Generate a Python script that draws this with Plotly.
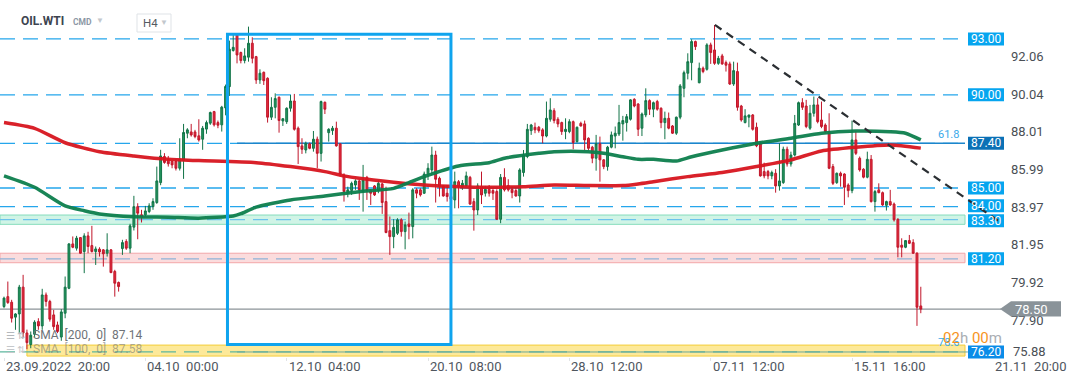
import plotly.graph_objects as go

# ---------------- DATA (H4 candles, OIL.WTI) ----------------
opens = [78.64, 79.17, 78.87, 78.07, 78.24, 79.68, 77.22, 76.60, 77.15, 77.83,
         77.60, 79.26, 78.91, 78.19, 77.65, 77.00, 78.28, 79.62, 82.00, 81.77,
         82.34, 81.59, 82.43, 81.91, 81.59, 81.72, 81.68, 81.50, 81.68, 80.52,
         79.93, 81.75, 82.13, 81.77, 82.90, 84.00, 83.56, 83.56, 83.74, 84.00,
         84.22, 85.29, 86.69, 86.55, 86.42, 86.42, 86.06, 86.47, 87.94, 88.01,
         88.01, 87.80, 87.62, 88.16, 88.48, 89.10, 88.51, 88.39, 89.30, 90.44,
         92.38, 93.21, 92.27, 91.84, 92.02, 92.77, 92.05, 90.80, 91.21, 90.89,
         88.80, 89.33, 89.87, 88.60, 88.56, 89.28, 89.67, 88.21, 87.26, 87.04,
         87.37, 87.13, 87.62, 86.86, 89.60, 87.97, 88.08, 88.21, 87.37, 85.70,
         84.72, 84.86, 85.16, 85.38, 84.81, 85.57, 84.86, 85.11, 84.86, 85.22,
         84.27, 82.71, 82.39, 82.57, 83.29, 82.66, 83.07, 82.93, 84.90, 84.90,
         84.72, 85.70, 85.97, 86.77, 85.52, 85.11, 84.72, 84.54, 84.36, 85.34,
         85.07, 85.11, 85.57, 84.27, 83.82, 85.07, 84.72, 84.93, 84.86, 84.81,
         83.32, 85.57, 85.13, 84.93, 84.86, 84.57, 85.83, 86.69, 88.08, 88.26,
         88.26, 88.12, 87.79, 88.69, 89.15, 88.69, 88.51, 88.03, 88.03, 88.56,
         87.49, 88.47, 88.44, 87.67, 87.19, 86.60, 87.37, 86.51, 86.15, 87.19,
         87.79, 87.90, 88.44, 88.51, 88.69, 89.76, 89.51, 88.21, 88.92, 89.69,
         89.23, 89.64, 89.28, 88.51, 88.74, 88.33, 87.94, 88.80, 90.35, 91.16,
         91.73, 92.86, 90.65, 91.43, 91.37, 92.68, 92.41, 91.69, 92.09, 91.73,
         91.66, 90.58, 91.25, 89.40, 88.51, 88.80, 88.92, 88.26, 87.37, 85.88,
         85.88, 85.65, 85.79, 85.11, 85.29, 87.08, 86.29, 86.77, 88.38, 89.58,
         89.40, 88.21, 89.01, 89.46, 88.65, 88.38, 88.03, 86.15, 85.29, 85.79,
         85.75, 85.16, 84.86, 87.58, 86.60, 86.01, 85.58, 86.54, 84.27, 84.90,
         84.75, 84.07, 84.27, 84.14, 83.32, 81.93, 81.82, 82.18, 82.07, 81.50,
         78.67]
highs = [79.17, 79.98, 79.00, 78.28, 79.80, 80.34, 77.40, 77.30, 77.90, 78.01,
         79.59, 79.39, 79.00, 78.46, 77.83, 78.50, 80.25, 82.04, 82.40, 82.43,
         82.34, 82.57, 82.65, 82.97, 81.86, 81.82, 81.72, 82.57, 81.72, 80.61,
         79.98, 82.22, 82.25, 83.08, 84.58, 84.18, 83.83, 84.04, 84.18, 84.45,
         86.15, 87.05, 86.87, 86.72, 86.47, 86.55, 87.67, 88.44, 88.21, 88.44,
         88.12, 88.69, 88.33, 88.62, 89.10, 89.14, 88.62, 89.41, 90.55, 92.91,
         93.21, 93.30, 92.32, 92.50, 93.66, 93.09, 92.09, 91.37, 91.25, 90.94,
         89.87, 90.08, 89.91, 88.74, 89.33, 89.99, 90.05, 88.30, 87.67, 87.49,
         87.44, 88.06, 87.76, 89.69, 89.64, 88.21, 88.33, 88.56, 87.40, 85.79,
         85.07, 85.34, 85.47, 85.43, 86.24, 85.65, 84.93, 85.16, 85.43, 85.29,
         85.07, 83.47, 83.33, 83.38, 83.38, 83.20, 83.68, 84.99, 84.99, 84.99,
         85.88, 86.33, 87.22, 87.00, 85.61, 85.16, 85.16, 84.70, 85.88, 85.43,
         85.43, 85.88, 85.65, 84.45, 85.25, 85.88, 85.11, 85.16, 84.99, 84.93,
         85.75, 86.06, 85.47, 85.07, 84.99, 86.06, 87.04, 88.44, 88.44, 88.51,
         88.33, 88.21, 89.64, 89.82, 89.28, 88.80, 88.56, 88.74, 88.69, 88.62,
         88.30, 88.56, 88.62, 87.72, 87.26, 87.85, 87.76, 86.55, 87.26, 88.03,
         88.30, 89.46, 88.87, 88.97, 89.76, 89.82, 89.55, 89.05, 90.35, 89.76,
         89.64, 89.73, 89.33, 89.10, 89.05, 88.38, 88.83, 90.58, 91.30, 92.23,
         92.98, 92.91, 91.73, 91.52, 92.77, 92.80, 93.75, 92.09, 92.20, 91.84,
         91.78, 91.78, 91.73, 89.46, 89.23, 88.92, 88.97, 88.51, 87.49, 86.36,
         85.97, 85.93, 86.01, 87.40, 87.22, 87.22, 86.95, 88.92, 89.64, 89.82,
         89.73, 89.46, 89.91, 89.82, 89.64, 88.47, 89.01, 86.29, 85.83, 85.88,
         85.79, 85.25, 88.62, 88.03, 86.69, 86.06, 86.95, 86.77, 84.90, 85.25,
         84.81, 84.32, 84.90, 84.22, 83.38, 82.30, 82.21, 82.48, 82.25, 81.55,
         79.70]
lows = [78.55, 78.78, 77.78, 77.39, 77.21, 77.00, 76.35, 76.40, 77.00, 77.39,
        77.39, 78.64, 77.83, 77.39, 77.21, 76.80, 78.01, 79.57, 81.77, 81.64,
        81.47, 80.43, 81.50, 81.54, 80.87, 81.32, 80.78, 81.32, 80.43, 79.17,
        79.44, 81.41, 81.68, 81.50, 82.72, 82.25, 83.15, 83.47, 83.65, 83.83,
        84.15, 85.15, 86.30, 86.15, 86.06, 85.94, 85.94, 85.49, 87.67, 87.76,
        87.67, 87.49, 87.05, 87.91, 88.39, 88.30, 88.21, 88.03, 88.90, 89.94,
        92.32, 91.69, 91.69, 91.69, 91.78, 91.69, 90.59, 90.59, 90.53, 88.51,
        88.65, 88.74, 87.97, 88.33, 88.44, 89.10, 88.08, 86.29, 86.83, 86.86,
        87.08, 86.95, 86.06, 86.42, 88.97, 87.49, 87.85, 87.22, 85.61, 84.27,
        84.50, 84.63, 84.90, 84.36, 83.73, 84.36, 84.09, 84.57, 84.72, 83.61,
        82.57, 81.41, 81.77, 82.48, 82.39, 81.71, 82.25, 82.30, 84.45, 84.54,
        84.68, 85.43, 85.70, 84.22, 84.54, 84.54, 84.27, 84.20, 83.91, 83.91,
        84.90, 85.07, 84.09, 82.71, 83.55, 84.14, 84.54, 84.54, 84.36, 83.29,
        83.11, 84.81, 84.81, 84.45, 84.54, 84.22, 85.61, 86.60, 87.85, 87.94,
        87.97, 87.40, 87.72, 88.56, 88.47, 88.26, 87.85, 87.62, 87.94, 87.08,
        87.44, 88.30, 87.04, 87.04, 86.33, 85.93, 85.34, 86.01, 85.93, 87.13,
        87.13, 87.79, 87.54, 88.03, 88.62, 89.33, 87.79, 87.79, 88.80, 88.92,
        88.80, 89.15, 88.21, 87.62, 88.15, 87.90, 87.85, 88.69, 89.87, 90.83,
        90.78, 92.41, 90.62, 91.16, 91.30, 91.66, 91.61, 91.61, 91.61, 91.25,
        90.53, 90.48, 89.15, 88.56, 88.47, 88.26, 88.08, 87.19, 85.61, 85.52,
        85.47, 85.47, 84.75, 84.86, 85.22, 86.15, 86.15, 86.69, 88.33, 89.19,
        88.21, 88.12, 88.83, 88.47, 88.21, 87.94, 86.01, 85.16, 85.22, 85.07,
        84.09, 84.50, 84.72, 86.77, 85.88, 85.52, 85.52, 84.22, 83.73, 84.72,
        84.04, 83.79, 84.04, 83.20, 81.28, 81.28, 81.77, 81.99, 81.46, 77.60,
        78.28]
closes = [79.09, 78.85, 78.01, 78.24, 79.68, 77.22, 76.70, 77.10, 77.80, 77.60,
          79.26, 78.91, 77.96, 77.56, 77.30, 78.35, 79.68, 82.00, 81.82, 82.31,
          81.50, 82.43, 81.86, 81.59, 81.73, 81.57, 81.47, 81.68, 80.46, 79.89,
          79.71, 82.07, 81.77, 82.97, 84.00, 83.65, 83.43, 83.77, 84.04, 84.27,
          85.38, 86.72, 86.37, 86.30, 86.24, 86.06, 86.55, 87.98, 88.12, 87.85,
          87.76, 87.58, 88.21, 88.51, 89.05, 88.39, 88.37, 89.34, 90.45, 92.45,
          92.55, 92.14, 91.84, 92.09, 92.77, 91.96, 90.80, 91.16, 90.76, 88.80,
          89.33, 89.80, 88.62, 88.72, 89.28, 89.67, 88.15, 87.22, 87.08, 87.40,
          87.13, 87.62, 86.86, 89.64, 89.23, 88.15, 88.21, 87.26, 85.75, 84.81,
          84.90, 85.25, 85.38, 84.90, 85.43, 84.86, 84.72, 84.63, 85.25, 84.22,
          82.61, 82.39, 82.89, 83.29, 82.66, 83.02, 82.93, 84.90, 84.72, 84.63,
          85.75, 86.06, 86.77, 85.47, 85.07, 84.57, 84.54, 84.40, 85.34, 85.07,
          85.25, 85.65, 84.14, 83.82, 85.11, 84.63, 84.93, 84.72, 84.72, 83.32,
          85.57, 84.90, 84.90, 84.75, 84.57, 85.97, 86.77, 88.15, 88.38, 88.12,
          88.08, 87.79, 88.74, 89.19, 88.62, 88.44, 88.03, 88.15, 88.56, 87.44,
          88.26, 88.33, 87.58, 87.13, 86.60, 87.37, 86.51, 86.15, 87.19, 87.85,
          87.94, 88.51, 88.62, 88.83, 89.73, 89.40, 88.15, 88.97, 89.69, 89.23,
          89.58, 89.23, 88.51, 88.74, 88.21, 87.94, 88.80, 90.48, 91.19, 91.78,
          92.86, 92.59, 91.43, 91.25, 92.68, 92.27, 91.69, 91.96, 91.66, 91.59,
          90.58, 91.30, 89.33, 88.65, 88.87, 88.92, 88.15, 87.26, 85.65, 85.65,
          85.65, 85.83, 85.11, 85.38, 87.08, 86.29, 86.77, 88.47, 89.58, 89.33,
          88.30, 89.01, 89.46, 88.56, 88.30, 88.03, 86.06, 85.25, 85.79, 85.65,
          85.04, 84.86, 87.58, 86.86, 85.97, 85.58, 86.54, 84.27, 84.81, 84.75,
          84.09, 84.27, 84.09, 83.29, 81.82, 81.82, 82.18, 82.03, 81.50, 78.60,
          78.50]
candle_idx = list(range(len(closes)))

# moving averages (candle index, value)
sma200_idx = [0, 8, 16, 25, 34, 43, 51, 66, 75, 84, 89, 93, 102, 110, 119, 127, 136, 144, 153, 162,
              166, 170, 179, 188, 197, 206, 214, 223, 232, 240]
sma200_val = [88.51, 88.20, 87.43, 86.95, 86.72, 86.54, 86.47, 86.36, 86.15, 85.88, 85.65, 85.52, 85.31,
              85.16, 85.07, 85.04, 85.07, 85.16, 85.13, 85.13, 85.22, 85.34, 85.61, 85.83, 86.15, 86.51,
              86.99, 87.19, 87.31, 87.14]
sma100_idx = [0, 8, 16, 21, 25, 34, 43, 51, 60, 62, 66, 75, 84, 93, 102, 106, 110, 119, 127, 131,
              140, 144, 153, 157, 162, 166, 170, 176, 180, 188, 197, 206, 214, 223, 232, 236, 240]
sma100_val = [85.65, 85.04, 84.04, 83.78, 83.61, 83.46, 83.43, 83.38, 83.50, 83.62, 83.97, 84.36, 84.57,
              84.80, 84.98, 85.29, 85.61, 86.18, 86.36, 86.60, 86.86, 86.95, 86.95, 86.86, 86.68, 86.54,
              86.54, 86.45, 86.68, 87.04, 87.40, 87.67, 87.94, 88.06, 88.02, 87.94, 87.58]
sma200_last = 87.14
sma100_last = 87.58

level_lines = [93.00, 90.00, 87.40, 85.00, 84.00]
zone_lines = [83.30, 81.20, 76.20]
zones = [(83.05, 83.55), (80.99, 81.50), (75.98, 76.57)]
fib_levels = [("61.8", 87.40), ("78.6", 76.20)]
last_price = 78.50

x_tick_idx = [0, 37, 74, 111, 148, 185, 222, 259]
x_tick_text = ["23.09.2022", "04.10", "12.10", "20.10", "28.10", "07.11", "15.11", "21.11"]
x_tick_time = ["20:00", "00:00", "04:00", "08:00", "12:00", "12:00", "16:00", "20:00"]
y_tick_vals = [92.06, 90.04, 88.01, 85.99, 83.97, 81.95, 79.92, 77.90]
y_tick_bottom = 75.88

# ---------------- LAYOUT GEOMETRY ----------------
W, H = 1072, 382
ML, MR, MT, MB = 0, 107, 0, 25
PW, PH = W - ML - MR, H - MT - MB
X_RANGE = [-1.05, 251.57]
Y_RANGE = [75.93, 95.09]
PX_PER_PRICE = PH / (Y_RANGE[1] - Y_RANGE[0])


def xp(i):
    return (i - X_RANGE[0]) / (X_RANGE[1] - X_RANGE[0])


def yp(v):
    return (v - Y_RANGE[0]) / (Y_RANGE[1] - Y_RANGE[0])


def px(xpix):
    return xpix / PW


def py(ypix):
    return 1 - ypix / PH


FONT = "Roboto, Arial, sans-serif"
fig = go.Figure()

fig.add_trace(go.Candlestick(
    x=candle_idx, open=opens, high=highs, low=lows, close=closes,
    increasing=dict(line=dict(color="#117347", width=1), fillcolor="#25975f"),
    decreasing=dict(line=dict(color="#c0162a", width=1), fillcolor="#e42b3c"),
    whiskerwidth=0, showlegend=False, hoverinfo="skip"))

fig.add_trace(go.Scatter(x=sma200_idx, y=sma200_val, mode="lines",
                         line=dict(color="#d8161f", width=3.5, shape="spline", smoothing=0.6),
                         showlegend=False, hoverinfo="skip", opacity=0.95))
fig.add_trace(go.Scatter(x=sma100_idx, y=sma100_val, mode="lines",
                         line=dict(color="#0d7f4d", width=3.5, shape="spline", smoothing=0.6),
                         showlegend=False, hoverinfo="skip", opacity=0.95))

shapes = []
# zones
zone_style = [("rgba(150,230,200,0.45)", "#86dcbc"), ("rgba(248,185,188,0.5)", "#f2a7aa"),
              ("rgba(252,224,110,0.7)", "#f3cd3a")]
for (lo, hi), (fc, lc) in zip(zones, zone_style):
    x0 = 0 if lo > 77 else xp(6)
    shapes.append(dict(type="rect", xref="paper", yref="y", x0=x0, x1=1.0, y0=lo, y1=hi,
                       fillcolor=fc, line=dict(color=lc, width=1), layer="below"))
# dashed levels
for v in level_lines:
    shapes.append(dict(type="line", xref="paper", yref="y", x0=0, x1=1, y0=v, y1=v,
                       line=dict(color="#25a6ec", width=1.3, dash="15px,8px"), layer="below"))
for v, c in zip(zone_lines, ["#6cc3ec", "#8fb2d8", "#5db79e"]):
    shapes.append(dict(type="line", xref="paper", yref="y", x0=0, x1=1, y0=v, y1=v,
                       line=dict(color=c, width=1.3, dash="15px,8px"), layer="below"))
# fibonacci solid lines
shapes.append(dict(type="line", xref="paper", yref="y", x0=xp(61), x1=1, y0=87.40, y1=87.40,
                   line=dict(color="#1c86cc", width=1.5), layer="below"))
shapes.append(dict(type="line", xref="paper", yref="y", x0=xp(61), x1=1.003, y0=76.20, y1=76.20,
                   line=dict(color="#6aa99a", width=1), layer="below"))
# current price line (runs out to the price tag)
shapes.append(dict(type="line", xref="paper", yref="paper", x0=0, x1=px(1001), y0=yp(last_price),
                   y1=yp(last_price), line=dict(color="#8b9398", width=1.3), layer="below"))
# blue rectangle
shapes.append(dict(type="rect", xref="x", yref="y", x0=58.5, x1=117.0, y0=76.60, y1=93.25,
                   line=dict(color="#0fa4ee", width=3), fillcolor="rgba(0,0,0,0)", layer="above"))
# level label boxes (drawn as shapes so that the trend line can pass over them)
box_half = 6.5 / PX_PER_PRICE
box_info = []
for v in level_lines + zone_lines:
    bg = "#0b71b6" if v == 87.40 else ("#0a8ce8" if v == 76.20 else "#06a5ef")
    ys = 1 if v == 84.00 else (-1 if v == 83.30 else 0)
    c = v + ys / PX_PER_PRICE
    box_info.append((v, c))
    shapes.append(dict(type="rect", xref="paper", yref="paper", x0=px(968), x1=px(1004),
                       y0=yp(c - box_half), y1=yp(c + box_half), fillcolor=bg, line=dict(width=0),
                       layer="above"))
# down-trend line
shapes.append(dict(type="line", xref="paper", yref="paper", x0=xp(186.1), x1=xp(260.7),
                   y0=yp(93.75), y1=yp(83.18),
                   line=dict(color="#2b2f33", width=2.2, dash="8px,6px"), layer="above"))
# price arrow label
yt, yb = yp(last_price + 0.42), yp(last_price - 0.40)
ym = yp(last_price)
shapes.append(dict(type="path", xref="paper", yref="paper",
                   path=f"M {px(1000)},{ym} L {px(1011)},{yt} L {px(1061)},{yt} L {px(1061)},{yb} L {px(1011)},{yb} Z",
                   fillcolor="#8a9399", line=dict(width=0), layer="above"))
# H4 selector box
shapes.append(dict(type="rect", xref="paper", yref="paper", x0=px(137), x1=px(171), y0=py(32), y1=py(14),
                   line=dict(color="#dfe3e7", width=1), fillcolor="white", layer="above"))

ann = []
for v, c in box_info:
    ann.append(dict(xref="paper", yref="paper", x=px(986), y=yp(c), text=f"{v:.2f}", showarrow=False,
                    xanchor="center", yanchor="middle",
                    font=dict(family=FONT, size=12, color="white")))
# fib labels
for lab, v in fib_levels:
    ann.append(dict(xref="paper", yref="y", x=px(961), y=v, yshift=9, text=lab, showarrow=False,
                    xanchor="right", yanchor="middle", font=dict(family=FONT, size=11, color="#3aa9ea")))
# price label text
ann.append(dict(xref="paper", yref="y", x=px(1013), y=last_price, text=f"{last_price:.2f}", showarrow=False,
                xanchor="left", yanchor="middle", font=dict(family=FONT, size=13, color="white")))
# countdown
ann.append(dict(xref="paper", yref="paper", x=px(1004), y=py(338), showarrow=False, xanchor="right",
                yanchor="middle",
                text="<span style='color:#f7941d'>02</span><span style='color:#a9aeb3'>h</span> "
                     "<span style='color:#f7941d'>00</span><span style='color:#a9aeb3'>m</span>",
                font=dict(family=FONT, size=15)))
# bottom y label
ann.append(dict(xref="paper", yref="paper", x=px(1011), y=py(351), text=f"{y_tick_bottom:.2f}",
                showarrow=False, xanchor="left", yanchor="middle",
                font=dict(family=FONT, size=13, color="#4a4f55")))
# x labels
for i, d, t in zip(x_tick_idx, x_tick_text, x_tick_time):
    ann.append(dict(xref="paper", yref="paper", x=xp(i), y=py(367), text=f"{d}\u00a0\u00a0{t}",
                    showarrow=False, xanchor="left", yanchor="middle",
                    font=dict(family=FONT, size=13, color="#4f565e")))
# header
ann.append(dict(xref="paper", yref="paper", x=px(19), y=py(21), text="<b>OIL.WTI</b>", showarrow=False,
                xanchor="left", yanchor="middle", font=dict(family=FONT, size=12, color="#3d4450")))
ann.append(dict(xref="paper", yref="paper", x=px(71), y=py(22), text="<b>CMD</b>", showarrow=False,
                xanchor="left", yanchor="middle", font=dict(family=FONT, size=8.5, color="#8c98a5")))
ann.append(dict(xref="paper", yref="paper", x=px(94), y=py(20), text="▼", showarrow=False,
                xanchor="left", yanchor="middle", font=dict(family=FONT, size=8, color="#c3c8cd")))
ann.append(dict(xref="paper", yref="paper", x=px(141), y=py(23), text="H4", showarrow=False,
                xanchor="left", yanchor="middle", font=dict(family=FONT, size=11.5, color="#555b62")))
ann.append(dict(xref="paper", yref="paper", x=px(158), y=py(22), text="▼", showarrow=False,
                xanchor="left", yanchor="middle", font=dict(family=FONT, size=8, color="#c3c8cd")))
# SMA legend
ann.append(dict(xref="paper", yref="paper", x=px(4), y=py(335), text="☰ ⇅", showarrow=False,
                xanchor="left", yanchor="middle", font=dict(family=FONT, size=10, color="#b4b8bc")))
ann.append(dict(xref="paper", yref="paper", x=px(31), y=py(335),
                text=f"SMA\u00a0\u00a0[200,\u00a0\u00a00]\u00a0\u00a0{sma200_last:.2f}",
                showarrow=False, xanchor="left", yanchor="middle",
                font=dict(family=FONT, size=12, color="#6e7378")))
ann.append(dict(xref="paper", yref="paper", x=px(4), y=py(349), text="☰ ⇅", showarrow=False,
                xanchor="left", yanchor="middle", font=dict(family=FONT, size=10, color="#c5c8cb")))
ann.append(dict(xref="paper", yref="paper", x=px(31), y=py(349),
                text=f"SMA\u00a0\u00a0[100,\u00a0\u00a00]\u00a0\u00a0{sma100_last:.2f}",
                showarrow=False, xanchor="left", yanchor="middle",
                font=dict(family=FONT, size=12, color="rgba(110,110,110,0.55)")))

fig.update_layout(
    width=W, height=H, margin=dict(l=ML, r=MR, t=MT, b=MB),
    paper_bgcolor="white", plot_bgcolor="white",
    shapes=shapes, annotations=ann, showlegend=False,
    font=dict(family=FONT),
    xaxis=dict(range=X_RANGE, showgrid=False, zeroline=False, showline=False,
               tickvals=x_tick_idx, ticks="outside", ticklen=3, tickcolor="#e2e4e6",
               showticklabels=False, rangeslider=dict(visible=False), fixedrange=True),
    yaxis=dict(range=Y_RANGE, side="right", showgrid=False, zeroline=False, showline=False,
               tickvals=y_tick_vals, ticktext=[f"{v:.2f}" for v in y_tick_vals],
               ticks="", ticklabelstandoff=45,
               tickfont=dict(family=FONT, size=13, color="#4a4f55"), fixedrange=True),
)

fig.write_html("out.html", config={"displayModeBar": False},
               post_script="document.body.style.margin='0';document.body.style.overflow='hidden';")
